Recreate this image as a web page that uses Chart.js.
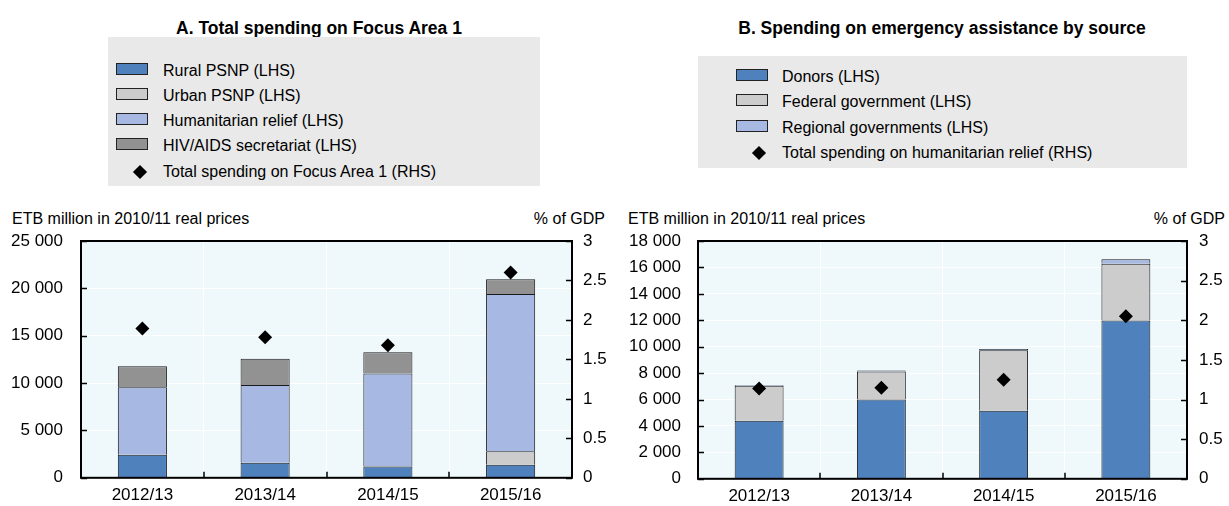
<!DOCTYPE html>
<html><head><meta charset="utf-8">
<script src="https://cdn.jsdelivr.net/npm/chart.js@4.4.1/dist/chart.umd.min.js"></script>
<style>
body{margin:0;width:1229px;height:506px;position:relative;background:#fff;font-family:"Liberation Sans",Arial,sans-serif;color:#000;overflow:hidden}
.title{position:absolute;font-weight:bold;font-size:17.5px;line-height:20px;white-space:nowrap;transform:translateX(-50%)}
.legend{position:absolute;background:#e9e9e9}
.item{position:absolute;font-size:16px;white-space:nowrap;line-height:20px}
.swatch{position:absolute;width:30px;height:10px;border:1px solid #222}
.diamond{position:absolute;width:10px;height:10px;background:#000;transform:rotate(45deg)}
.unit{position:absolute;font-size:16px;line-height:20px;white-space:nowrap}
canvas{position:absolute}
</style></head><body>

<div class="title" style="left:319px;top:18px">A. Total spending on Focus Area 1</div>
<div class="title" style="left:942px;top:18px">B. Spending on emergency assistance by source</div>
<div class="legend" id="legA" style="left:108px;top:37px;width:432px;height:149px"></div>
<div class="legend" id="legB" style="left:698px;top:56px;width:489px;height:112px"></div>
<div class="unit" style="left:12px;top:209px">ETB million in 2010/11 real prices</div>
<div class="unit" style="right:624px;top:209px">% of GDP</div>
<div class="unit" style="left:628px;top:209px">ETB million in 2010/11 real prices</div>
<div class="unit" style="right:4px;top:209px">% of GDP</div>

<canvas id="cA" width="610" height="306" style="left:0;top:200px"></canvas>
<canvas id="cB" width="619" height="306" style="left:610px;top:200px"></canvas>

<script>
// ---- data ----
const categories = ['2012/13', '2013/14', '2014/15', '2015/16'];

// Panel A (ETB million, LHS)
const ruralPSNP          = [2430, 1600, 1180, 1390];
const urbanPSNP          = [0, 0, 60, 1420];
const humanitarianRelief = [7120, 8190, 9760, 16600];
const hivAidsSecretariat = [2220, 2780, 2260, 1560];
// Panel A (% of GDP, RHS)
const totalFocusArea1    = [1.89, 1.78, 1.68, 2.60];

// Panel B (ETB million, LHS)
const donors             = [4400, 6000, 5150, 11975];
const federalGovernment  = [2650, 2125, 4575, 4300];
const regionalGovernments= [50, 75, 100, 350];
// Panel B (% of GDP, RHS)
const totalHumanitarian  = [1.14, 1.15, 1.25, 2.05];

// axis tick settings
const lhsMaxA = 25000, lhsStepA = 5000;
const lhsMaxB = 18000, lhsStepB = 2000;
const rhsMax = 3, rhsStep = 0.5;

// ---- styling ----
const C_DARKBLUE = '#4f81bd', C_LIGHTGREY = '#cccccc', C_LIGHTBLUE = '#a7b9e3', C_GREY = '#929292';
const TICK_FONT = {family: "'Liberation Sans', Arial, sans-serif", size: 17};

Chart.defaults.font.family = "'Liberation Sans', Arial, sans-serif";
Chart.defaults.font.size = 16;
Chart.defaults.color = '#000';

const fmtThousands = v => String(v).replace(/\B(?=(\d{3})+(?!\d))/g, ' ');

const framePlugin = {
  id: 'frame',
  beforeDraw(chart) {
    const {ctx, chartArea: a} = chart;
    ctx.save();
    ctx.fillStyle = '#eff9fc';
    ctx.fillRect(a.left, a.top, a.right - a.left, a.bottom - a.top);
    ctx.restore();
  },
  afterDraw(chart) {
    const {ctx, chartArea: a, scales} = chart;
    ctx.save();
    ctx.strokeStyle = '#000';
    ctx.lineWidth = 1.5;
    ctx.beginPath();
    const y = scales.y, y1 = scales.y1, x = scales.x;
    y.ticks.forEach((t, i) => { const p = Math.round(y.getPixelForTick(i)) + 0.5; ctx.moveTo(a.left, p); ctx.lineTo(a.left + 6, p); });
    y1.ticks.forEach((t, i) => { const p = Math.round(y1.getPixelForTick(i)) + 0.5; ctx.moveTo(a.right - 6, p); ctx.lineTo(a.right, p); });
    for (let i = 1; i < x.ticks.length; i++) {
      const p = Math.round((x.getPixelForTick(i - 1) + x.getPixelForTick(i)) / 2);
      ctx.moveTo(p, a.bottom); ctx.lineTo(p, a.bottom - 6);
    }
    ctx.stroke();
    ctx.lineWidth = 2;
    ctx.strokeRect(a.left, a.top, a.right - a.left, a.bottom - a.top);
    ctx.restore();
  }
};

function barDs(label, data, color) {
  return {type: 'bar', label, data, backgroundColor: color, borderColor: '#1a1a1a', borderWidth: 1,
          barPercentage: 0.4, categoryPercentage: 1, yAxisID: 'y', order: 1, stack: 's'};
}
function diamondDs(label, data) {
  return {type: 'line', label, data, showLine: false, pointStyle: 'rectRot', pointRadius: 7, pointHoverRadius: 7,
          backgroundColor: '#000', borderColor: '#000', borderWidth: 0, yAxisID: 'y1', order: 0};
}

function makeChart(id, datasets, lhsMax, lhsStep, leftW, rightW, leftPad, rightPad) {
  return new Chart(document.getElementById(id), {
    data: {labels: categories, datasets},
    options: {
      responsive: false, animation: false, devicePixelRatio: 1,
      layout: {padding: {top: 41, bottom: 0, left: 0, right: 0}},
      plugins: {legend: {display: false}, tooltip: {enabled: false}},
      scales: {
        x: {stacked: true, offset: true,
            grid: {color: '#ffffff', lineWidth: 1, offset: true, drawTicks: false},
            border: {display: false},
            ticks: {padding: 7, font: TICK_FONT},
            afterFit: s => { s.height = 25; }},
        y: {stacked: true, position: 'left', min: 0, max: lhsMax,
            grid: {color: '#ffffff', lineWidth: 1, drawTicks: false},
            border: {display: false},
            ticks: {stepSize: lhsStep, padding: leftPad, font: TICK_FONT, callback: v => fmtThousands(v)},
            afterFit: s => { s.width = leftW; }},
        y1: {position: 'right', min: 0, max: rhsMax,
            grid: {drawOnChartArea: false, drawTicks: false},
            border: {display: false},
            ticks: {stepSize: rhsStep, padding: rightPad, font: TICK_FONT, callback: v => String(v)},
            afterFit: s => { s.width = rightW; }}
      }
    },
    plugins: [framePlugin]
  });
}

const chartA = makeChart('cA', [
  barDs('Rural PSNP (LHS)', ruralPSNP, C_DARKBLUE),
  barDs('Urban PSNP (LHS)', urbanPSNP, C_LIGHTGREY),
  barDs('Humanitarian relief (LHS)', humanitarianRelief, C_LIGHTBLUE),
  barDs('HIV/AIDS secretariat (LHS)', hivAidsSecretariat, C_GREY),
  diamondDs('Total spending on Focus Area 1 (RHS)', totalFocusArea1)
], lhsMaxA, lhsStepA, 81, 38, 18, 11);

const chartB = makeChart('cB', [
  barDs('Donors (LHS)', donors, C_DARKBLUE),
  barDs('Federal government (LHS)', federalGovernment, C_LIGHTGREY),
  barDs('Regional governments (LHS)', regionalGovernments, C_LIGHTBLUE),
  diamondDs('Total spending on humanitarian relief (RHS)', totalHumanitarian)
], lhsMaxB, lhsStepB, 88, 42, 17, 12);

// ---- HTML legends built from the chart datasets ----
function buildLegend(chart, el, boxLeft, boxTop, iconX, textX, diamondX, firstY, stepY) {
  chart.data.datasets.forEach((ds, i) => {
    const cy = firstY + i * stepY - boxTop;
    if (ds.type === 'bar') {
      const sw = document.createElement('div');
      sw.className = 'swatch';
      sw.style.background = ds.backgroundColor;
      sw.style.left = (iconX - boxLeft) + 'px';
      sw.style.top = (cy - 8) + 'px';
      el.appendChild(sw);
    } else {
      const d = document.createElement('div');
      d.className = 'diamond';
      d.style.left = (diamondX - boxLeft - 5) + 'px';
      d.style.top = (cy - 5) + 'px';
      el.appendChild(d);
    }
    const t = document.createElement('div');
    t.className = 'item';
    t.textContent = ds.label;
    t.style.left = (textX - boxLeft) + 'px';
    t.style.top = (cy - 10) + 'px';
    el.appendChild(t);
  });
}
buildLegend(chartA, document.getElementById('legA'), 108, 37, 116, 163, 140, 70.5, 25.3);
buildLegend(chartB, document.getElementById('legB'), 698, 56, 736, 782, 759, 76.7, 25.5);
</script>
</body></html>
